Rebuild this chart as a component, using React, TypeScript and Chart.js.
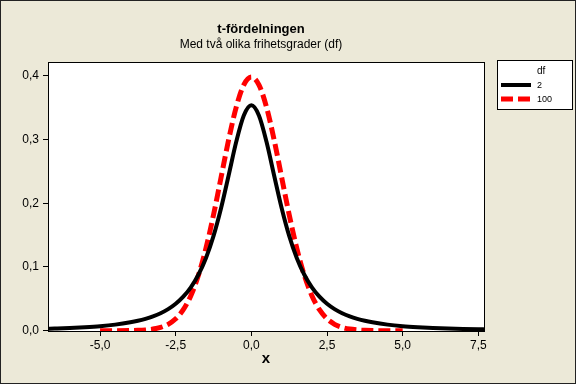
import React, { useEffect, useRef } from "react";
import { Chart, registerables } from "chart.js";

Chart.register(...registerables);

const titleText = "t-fördelningen";
const subtitleText = "Med två olika frihetsgrader (df)";
const xAxisTitle = "x";
const legendTitle = "df";
const seriesLabels = ["2", "100"];

const xValues = [
  -6.75, -6.5, -6, -5.5, -5, -4.5, -4, -3.75, -3.5, -3.25, -3, -2.75, -2.5, -2.25, -2, -1.75, -1.5, -1.25, -1,
  -0.75, -0.5, -0.25, 0, 0.25, 0.5, 0.75, 1, 1.25, 1.5, 1.75, 2, 2.25, 2.5, 2.75, 3, 3.25, 3.5, 3.75, 4, 4.5, 5,
  5.5, 6, 6.5, 7, 7.5, 7.75,
];

const df2Values = [
  0.003, 0.0034, 0.0043, 0.0055, 0.0071, 0.0095, 0.0131, 0.0155, 0.0186, 0.0225, 0.0274, 0.0338, 0.0422, 0.0533,
  0.068, 0.0878, 0.1141, 0.1487, 0.1925, 0.2438, 0.2963, 0.3376, 0.3536, 0.3376, 0.2963, 0.2438, 0.1925, 0.1487,
  0.1141, 0.0878, 0.068, 0.0533, 0.0422, 0.0338, 0.0274, 0.0225, 0.0186, 0.0155, 0.0131, 0.0095, 0.0071, 0.0055,
  0.0043, 0.0034, 0.0027, 0.0022, 0.002,
];

const df100Values = [
  null, null, null, null, 0.0, 0.0, 0.0002, 0.0005, 0.0012, 0.0025, 0.0051, 0.01, 0.0186, 0.0329, 0.0549, 0.0868,
  0.1294, 0.1819, 0.2408, 0.2998, 0.3508, 0.3856, 0.3979, 0.3856, 0.3508, 0.2998, 0.2408, 0.1819, 0.1294, 0.0868,
  0.0549, 0.0329, 0.0186, 0.01, 0.0051, 0.0025, 0.0012, 0.0005, 0.0002, 0.0, 0.0, null, null, null, null, null,
  null,
];

const xTicks = [-5, -2.5, 0, 2.5, 5, 7.5];
const yTicks = [0, 0.1, 0.2, 0.3, 0.4];

const FONT = "'Liberation Sans', Arial, sans-serif";
const BG = "#ECE9D8";

const fmt = (v: number) => v.toFixed(1).replace(".", ",");

const decorPlugin = {
  id: "decor",
  beforeDraw(chart: any) {
    const { ctx, chartArea: a, width, height } = chart;
    ctx.save();
    ctx.fillStyle = BG;
    ctx.fillRect(0, 0, width, height);
    ctx.fillStyle = "#ffffff";
    ctx.fillRect(a.left, a.top, a.right - a.left, a.bottom - a.top);
    ctx.restore();
  },
  afterDraw(chart: any) {
    const { ctx, chartArea: a, width, height } = chart;
    ctx.save();
    // plot frame
    ctx.strokeStyle = "#000";
    ctx.lineWidth = 1;
    ctx.strokeRect(a.left + 0.5, a.top + 0.5, a.right - a.left - 1, a.bottom - a.top);
    // outer frame
    ctx.strokeStyle = "#222";
    ctx.strokeRect(0.5, 0.5, width - 1, height - 1);

    // titles
    ctx.fillStyle = "#000";
    ctx.textAlign = "center";
    ctx.textBaseline = "middle";
    ctx.font = `bold 13px ${FONT}`;
    ctx.fillText(titleText, 261, 29);
    ctx.font = `12px ${FONT}`;
    ctx.fillText(subtitleText, 261, 45);

    // x axis title
    ctx.font = `bold 15px ${FONT}`;
    ctx.fillText(xAxisTitle, 266, 359);

    // legend
    const lx = 497, ly = 60, lw = 76, lh = 50;
    ctx.fillStyle = "#fff";
    ctx.fillRect(lx, ly, lw, lh);
    ctx.strokeStyle = "#000";
    ctx.strokeRect(lx + 0.5, ly + 0.5, lw - 1, lh - 1);
    ctx.fillStyle = "#000";
    ctx.textAlign = "left";
    ctx.font = `10px ${FONT}`;
    ctx.fillText(legendTitle, 537, 71);
    const rows = [85, 99];
    chart.data.datasets.forEach((ds: any, i: number) => {
      const y = rows[i];
      ctx.save();
      ctx.strokeStyle = ds.borderColor;
      ctx.lineWidth = ds.borderWidth;
      ctx.setLineDash(ds.borderDash || []);
      ctx.beginPath();
      ctx.moveTo(501, y);
      ctx.lineTo(531, y);
      ctx.stroke();
      ctx.restore();
      ctx.fillStyle = "#000";
      ctx.font = `9px ${FONT}`;
      ctx.fillText(seriesLabels[i], 537, y + 1);
    });
    ctx.restore();
  },
};

export default function App() {
  const canvasRef = useRef<HTMLCanvasElement | null>(null);

  useEffect(() => {
    if (!canvasRef.current) return;
    const chart = new Chart(canvasRef.current, {
      type: "line",
      data: {
        datasets: [
          {
            label: seriesLabels[0],
            data: xValues.map((x, i) => ({ x, y: df2Values[i] })),
            borderColor: "#000000",
            borderWidth: 4,
            pointRadius: 0,
            fill: false,
            cubicInterpolationMode: "monotone",
          },
          {
            label: seriesLabels[1],
            data: xValues.map((x, i) => ({ x, y: df100Values[i] })) as any,
            borderColor: "#ff0000",
            borderWidth: 5,
            borderDash: [12, 5],
            pointRadius: 0,
            fill: false,
            cubicInterpolationMode: "monotone",
            spanGaps: false,
          },
        ],
      },
      options: {
        animation: false,
        responsive: false,
        maintainAspectRatio: false,
        layout: { padding: { left: 0, top: 62, right: 91, bottom: 0 } },
        plugins: {
          legend: { display: false },
          title: { display: false },
          tooltip: { enabled: false },
        },
        scales: {
          x: {
            type: "linear",
            min: -6.72,
            max: 7.72,
            afterBuildTicks: (s: any) => {
              s.ticks = xTicks.map((v) => ({ value: v }));
            },
            afterFit: (s: any) => {
              s.height = 53;
            },
            grid: { drawOnChartArea: false, drawTicks: true, tickLength: 5, color: "#000" },
            border: { display: false },
            ticks: {
              color: "#000",
              font: { family: FONT, size: 12 },
              padding: 2,
              maxRotation: 0,
              callback: (v: any) => fmt(Number(v)),
            },
          },
          y: {
            type: "linear",
            min: -0.0005,
            max: 0.4215,
            afterBuildTicks: (s: any) => {
              s.ticks = yTicks.map((v) => ({ value: v }));
            },
            afterFit: (s: any) => {
              s.width = 48;
            },
            grid: { drawOnChartArea: false, drawTicks: true, tickLength: 5, color: "#000" },
            border: { display: false },
            ticks: {
              color: "#000",
              font: { family: FONT, size: 12 },
              padding: 4,
              callback: (v: any) => fmt(Number(v)),
            },
          },
        },
      },
      plugins: [decorPlugin],
    });
    return () => chart.destroy();
  }, []);

  return (
    <div style={{ position: "absolute", left: 0, top: 0, width: 576, height: 384 }}>
      <canvas ref={canvasRef} width={576} height={384} style={{ width: 576, height: 384, display: "block" }} />
    </div>
  );
}
